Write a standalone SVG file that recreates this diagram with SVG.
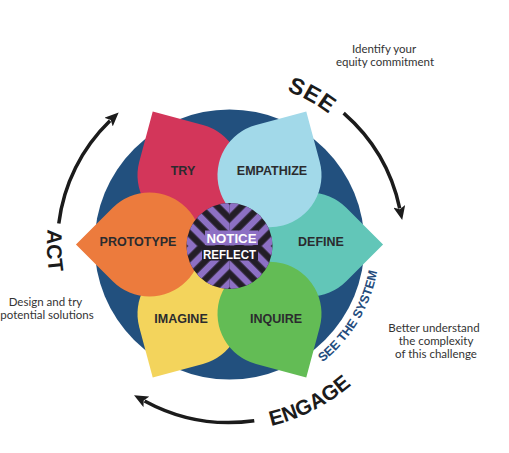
<svg xmlns="http://www.w3.org/2000/svg" width="509" height="453" viewBox="0 0 509 453">
<style>
.lbl{font-family:"Liberation Sans",Arial,sans-serif;font-weight:bold;font-size:12.5px;fill:#2b2b2e;text-anchor:middle}
.note{font-family:Lato,"Liberation Sans",sans-serif;font-size:11.5px;fill:#333;text-anchor:middle}
.big{font-family:"Liberation Sans",Arial,sans-serif;font-weight:bold;fill:#1b1b1b}
.arc{fill:none;stroke:#1b1b1b;stroke-width:3.5;marker-end:url(#ah)}
.ctr{font-family:"Liberation Sans",Arial,sans-serif;font-weight:bold;font-size:12.5px;fill:#fff;text-anchor:middle}
</style>
<defs>
<marker id="ah" markerUnits="userSpaceOnUse" viewBox="0 0 14 12" markerWidth="14" markerHeight="12" refX="2" refY="6" orient="auto"><path d="M0,0 L14,6 L0,12 L3,6 Z" fill="#1b1b1b"/></marker>
<path id="petal" d="M116.77,-36.77 L153.54,0 L116.77,36.77 A52,52 0 1 1 116.77,-36.77 Z"/>
<path id="pSee" d="M-28.48,-161.51 A164,164 0 0 1 152.06,-61.44"/>
<path id="pEng" d="M-41.84,181.23 A186,186 0 0 0 171.21,72.68"/>
<path id="pAct" d="M-143.81,-112.36 A182.5,182.5 0 0 0 -135.62,122.12"/>
<path id="pSys" d="M48.84,141.83 A150,150 0 0 0 148.15,-23.46"/>
<clipPath id="cc"><circle cx="229.5" cy="246" r="43"/></clipPath>
<pattern id="stA" patternUnits="userSpaceOnUse" width="13" height="13" patternTransform="translate(229.5 246) rotate(45)"><rect x="0" y="0" width="3.25" height="13" fill="#8d70c4"/><rect x="9.75" y="0" width="3.25" height="13" fill="#8d70c4"/></pattern>
<pattern id="stB" patternUnits="userSpaceOnUse" width="13" height="13" patternTransform="translate(229.5 246) rotate(-45)"><rect x="0" y="0" width="3.25" height="13" fill="#8d70c4"/><rect x="9.75" y="0" width="3.25" height="13" fill="#8d70c4"/></pattern>
</defs>
<rect width="509" height="453" fill="#fff"/>
<circle id="disc" cx="229.5" cy="244.5" r="135" fill="#22507e"/>
<g id="try"><use href="#petal" transform="translate(229.5 244.5) rotate(-120)" fill="#d3365a"/><text class="lbl" x="183" y="174.5">TRY</text></g>
<g id="define"><use href="#petal" transform="translate(229.5 244.5) rotate(0)" fill="#62c6b8"/><text class="lbl" x="321" y="245.5">DEFINE</text></g>
<g id="imagine"><use href="#petal" transform="translate(229.5 244.5) rotate(120)" fill="#f3d45c"/><text class="lbl" x="181" y="322.5">IMAGINE</text></g>
<g id="empathize"><use href="#petal" transform="translate(229.5 244.5) rotate(-60)" fill="#a2d9e9"/><text class="lbl" x="272" y="174.5">EMPATHIZE</text></g>
<g id="inquire"><use href="#petal" transform="translate(229.5 244.5) rotate(60)" fill="#63bc55"/><text class="lbl" x="276" y="322.5">INQUIRE</text></g>
<g id="prototype"><use href="#petal" transform="translate(229.5 244.5) rotate(180)" fill="#ec7b3d"/><text class="lbl" x="138" y="245.5">PROTOTYPE</text></g>
<g id="center">
<g clip-path="url(#cc)">
<rect x="185" y="200" width="90" height="95" fill="#231e27"/>
<path d="M229.5,246 L229.5,200 L185,200 L185,246 Z M229.5,246 L275,246 L275,295 L229.5,295 Z" fill="url(#stB)"/>
<path d="M229.5,246 L275,246 L275,200 L229.5,200 Z M229.5,246 L185,246 L185,295 L229.5,295 Z" fill="url(#stA)"/>
<rect x="205" y="230.5" width="53" height="14.5" fill="#8d70c4"/>
<rect x="202" y="245.5" width="56" height="15" fill="#231e27"/>
</g>
<text class="ctr" x="231.5" y="243" textLength="50" lengthAdjust="spacingAndGlyphs">NOTICE</text>
<text class="ctr" x="229.5" y="258.5" textLength="53" lengthAdjust="spacingAndGlyphs">REFLECT</text>
</g>
<g id="connectors" transform="translate(229.5 244.5)">
<path class="arc" d="M-170.72,-20.96 A172,172 0 0 1 -119.48,-123.73"/>
<path class="arc" d="M114.15,-131.32 A174,174 0 0 1 170.20,-36.18"/>
<path class="arc" d="M24.77,176.27 A178,178 0 0 1 -84.93,156.43"/>
</g>
<g id="stages" transform="translate(229.5 244.5)">
<text class="big" font-size="23" letter-spacing="1"><textPath href="#pSee" startOffset="50%" text-anchor="middle">SEE</textPath></text>
<text class="big" font-size="21"><textPath href="#pEng" startOffset="50%" text-anchor="middle">ENGAGE</textPath></text>
<text class="big" font-size="21"><textPath href="#pAct" startOffset="50%" text-anchor="middle">ACT</textPath></text>
<text class="big" font-size="12.5" style="fill:#244c7d"><textPath href="#pSys" startOffset="50%" text-anchor="middle">SEE THE SYSTEM</textPath></text>
</g>
<g id="notes">
<text class="note" x="384" y="53">Identify your</text>
<text class="note" x="385" y="66">equity commitment</text>
<text class="note" x="45.5" y="306">Design and try</text>
<text class="note" x="47" y="319">potential solutions</text>
<text class="note" x="434" y="332">Better understand</text>
<text class="note" x="436" y="345">the complexity</text>
<text class="note" x="436" y="358">of this challenge</text>
</g>
</svg>
